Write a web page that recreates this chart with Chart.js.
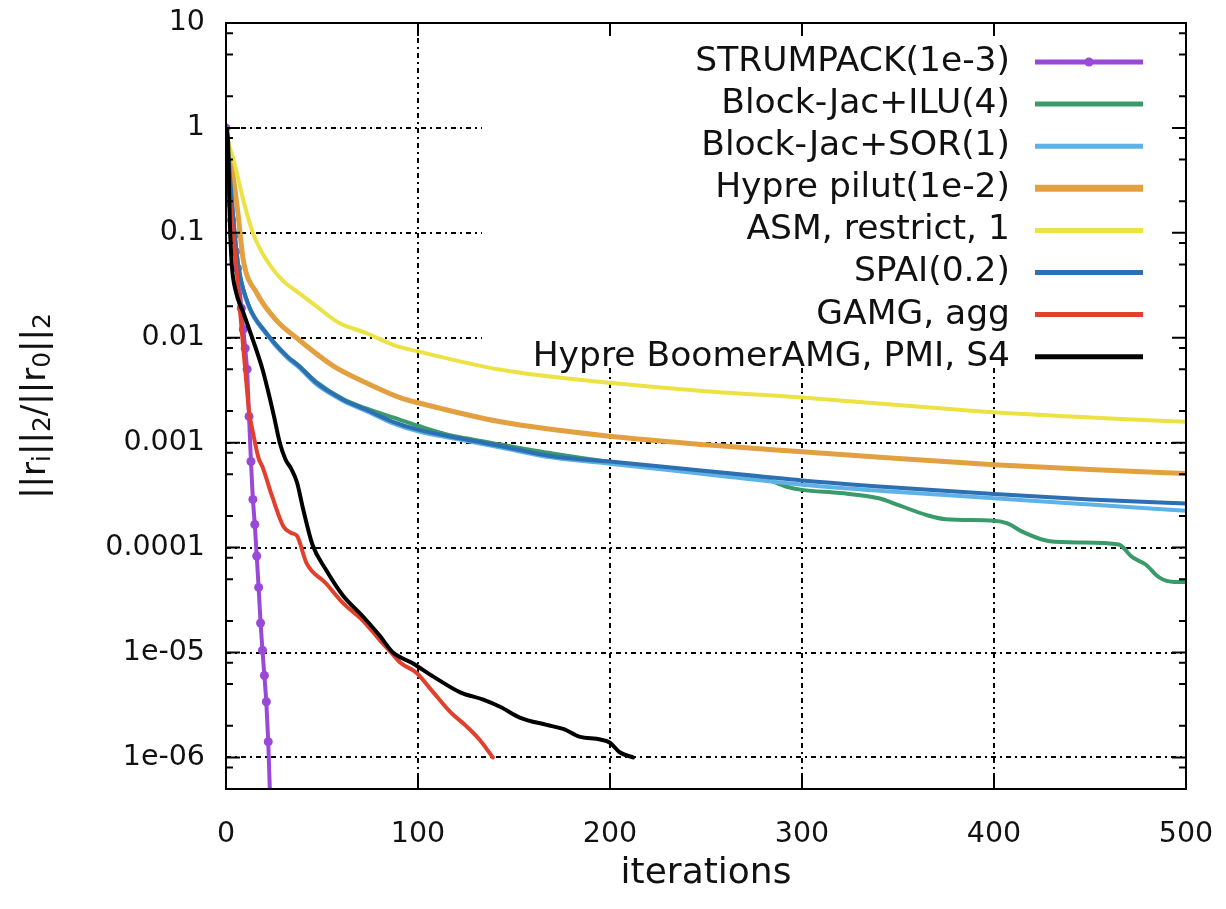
<!DOCTYPE html>
<html><head><meta charset="utf-8">
<script src="https://cdn.jsdelivr.net/npm/chart.js@4.4.1/dist/chart.umd.min.js"></script>
<style>html,body{margin:0;padding:0;background:#fff;}canvas{display:block;}</style>
</head><body>
<canvas id="c" width="1226" height="909"></canvas>
<script>
// ---- data (iterations vs relative residual) ----
const seriesLabels = ['STRUMPACK(1e-3)','Block-Jac+ILU(4)','Block-Jac+SOR(1)','Hypre pilut(1e-2)','ASM, restrict, 1','SPAI(0.2)','GAMG, agg','Hypre BoomerAMG, PMI, S4'];

const strumpackIter = [0,1,2,3,4,5,6,7,8,9,10,11,12,13,14,15,16,17,18,19,20,21,22,23];
const strumpackRes  = [1,0.282,0.19,0.132,0.0933,0.0661,0.0457,0.0302,0.0191,0.012,0.00794,0.00501,0.00178,0.000661,0.000288,0.000166,8.32e-5,4.17e-5,1.91e-5,1.05e-5,6.03e-6,3.39e-6,1.41e-6,3.98e-7];

const iluIter = [0,1,3,5,7,12,21,32,38,47,61,73,87,100,115,125,143,170,200,225,247,265,280,292,300,320,340,351,365,375,400,407,415,429,445,465,472,479,486,494,500];
const iluRes  = [1,0.62,0.205,0.079,0.0415,0.0198,0.011,0.0066,0.0054,0.0038,0.0026,0.00212,0.00174,0.00145,0.0012,0.0011,0.00096,0.00079,0.000655,0.000575,0.000525,0.00049,0.000457,0.00038,0.000355,0.000331,0.000295,0.000251,0.000204,0.000186,0.00018,0.00017,0.000141,0.000115,0.000112,0.000107,8.1e-5,6.9e-5,5.2e-5,4.7e-5,4.7e-5];

const sorIter = [0,1,3,5,7,12,21,32,38,47,61,73,87,100,125,143,170,200,250,300,350,400,450,500];
const sorRes  = [1,0.6,0.2,0.077,0.0405,0.0195,0.0108,0.0064,0.0052,0.0036,0.0025,0.002,0.00153,0.00128,0.00104,0.0009,0.00072,0.000631,0.000501,0.000398,0.000339,0.000295,0.000257,0.000224];

const pilutIter = [0,1,3,6,9,16,26,38,56,73,91,100,143,200,250,300,350,400,450,500];
const pilutRes  = [1,0.71,0.427,0.166,0.0553,0.0267,0.0148,0.00955,0.00537,0.00372,0.00267,0.0024,0.00158,0.00115,0.000955,0.00082,0.000708,0.000617,0.000556,0.000507];

const asmIter = [0,1,4,9,14,21,30,37,47,59,73,87,100,143,200,250,300,350,400,450,500];
const asmRes  = [1,0.76,0.495,0.206,0.1,0.0553,0.0344,0.0275,0.02,0.0138,0.0111,0.00857,0.00741,0.00495,0.00372,0.00309,0.00269,0.00229,0.00195,0.00174,0.00158];

const spaiIter = [0,1,3,5,7,12,21,32,38,47,61,73,87,100,125,143,170,200,250,300,350,400,450,500];
const spaiRes  = [1,0.63,0.206,0.0794,0.0417,0.02,0.0111,0.00661,0.00537,0.00372,0.00257,0.00206,0.00158,0.00133,0.00107,0.00093,0.000741,0.000661,0.000537,0.000437,0.000372,0.000324,0.000288,0.000263];

const gamgIter = [0,1,2,4,6,7,10,12,14,17,19,24,30,34,37,42,52,61,71,80,86,91,99,108,117,125,132,139];
const gamgRes  = [1,0.447,0.224,0.0891,0.0355,0.0209,0.00501,0.002,0.00126,0.000708,0.000589,0.000309,0.000158,0.000138,0.000129,7.08e-5,4.57e-5,2.95e-5,2.04e-5,1.32e-5,1e-5,7.94e-6,6.46e-6,4.17e-6,2.69e-6,2e-6,1.48e-6,1e-6];

const boomerIter = [0,1,2,3,5,9,14,19,23,25,28,31,34,37,40,45,52,61,71,80,87,97,108,122,134,143,153,167,176,184,195,200,205,212];
const boomerRes  = [1,0.79,0.126,0.0501,0.0282,0.0174,0.00955,0.00501,0.00257,0.00178,0.001,0.000692,0.000562,0.000417,0.00024,0.000107,6.17e-5,3.47e-5,2.24e-5,1.45e-5,1e-5,7.94e-6,5.89e-6,4.17e-6,3.55e-6,3.02e-6,2.4e-6,2.04e-6,1.86e-6,1.58e-6,1.48e-6,1.38e-6,1.12e-6,1e-6];

const xTickValues = [0,100,200,300,400,500];
const xTickLabels = ['0','100','200','300','400','500'];
const yTickValues = [10,1,0.1,0.01,0.001,0.0001,0.00001,0.000001];
const yTickLabels = ['10','1','0.1','0.01','0.001','0.0001','1e-05','1e-06'];
const yMinorTickValues = [8e-7,2e-6,5e-6,8e-6,2e-5,5e-5,8e-5,2e-4,5e-4,8e-4,0.002,0.005,0.008,0.02,0.05,0.08,0.2,0.5,0.8,2,5,8];

// ---- styling ----
const FONT = "'DejaVu Sans', 'Noto Sans', sans-serif";
const colors = ['#9a48d8','#3a9a6a','#5eb2e6','#e3a040','#ece244','#2c6fb2','#e0402c','#000000'];
const widths = [4,4,4,5,4,4,4,4];
const iterArrays = [strumpackIter,iluIter,sorIter,pilutIter,asmIter,spaiIter,gamgIter,boomerIter];
const resArrays  = [strumpackRes,iluRes,sorRes,pilutRes,asmRes,spaiRes,gamgRes,boomerRes];

const datasets = seriesLabels.map((lab, i) => ({
  label: lab,
  data: iterArrays[i].map((x, k) => ({x: x, y: resArrays[i][k]})),
  borderColor: colors[i],
  backgroundColor: colors[i],
  borderWidth: widths[i],
  pointRadius: i === 0 ? 4.5 : 0,
  pointStyle: 'circle',
  pointBorderWidth: 0,
  fill: false,
  cubicInterpolationMode: i === 0 ? 'default' : 'monotone',
  tension: 0,
  borderJoinStyle: 'round',
  borderCapStyle: 'round',
  order: 7 - i
}));

const decorPlugin = {
  id: 'decor',
  beforeDatasetsDraw(chart) {
    const ctx = chart.ctx, a = chart.chartArea;
    ctx.save();
    ctx.fillStyle = '#ffffff';
    ctx.fillRect(482, a.top + 1, a.right - 1 - 482, 367 - a.top);
    ctx.restore();
  },
  afterDatasetsDraw(chart) {
    const ctx = chart.ctx, a = chart.chartArea;
    const xs = chart.scales.x, ys = chart.scales.y;
    ctx.save();
    // legend
    ctx.font = "34.5px " + FONT;
    ctx.textAlign = 'right';
    ctx.textBaseline = 'middle';
    chart.data.datasets.forEach((ds, i) => {
      const y = 62 + i * 42.1;
      ctx.fillStyle = '#111';
      ctx.fillText(ds.label, 1010, y);
      ctx.strokeStyle = ds.borderColor;
      ctx.lineWidth = i === 3 ? 7 : 5;
      ctx.lineCap = 'butt';
      ctx.beginPath(); ctx.moveTo(1035, y); ctx.lineTo(1143, y); ctx.stroke();
      if (i === 0) {
        ctx.fillStyle = ds.borderColor;
        ctx.beginPath(); ctx.arc(1089, y, 4.5, 0, Math.PI * 2); ctx.fill();
      }
    });
    // frame
    ctx.strokeStyle = '#000';
    ctx.lineWidth = 2;
    ctx.strokeRect(a.left, a.top, a.right - a.left, a.bottom - a.top);
    // ticks
    ctx.beginPath();
    yTickValues.forEach(v => {
      const y = ys.getPixelForValue(v);
      ctx.moveTo(a.left, y); ctx.lineTo(a.left + 14, y);
      ctx.moveTo(a.right, y); ctx.lineTo(a.right - 14, y);
    });
    yMinorTickValues.forEach(v => {
      const y = ys.getPixelForValue(v);
      ctx.moveTo(a.left, y); ctx.lineTo(a.left + 7, y);
      ctx.moveTo(a.right, y); ctx.lineTo(a.right - 7, y);
    });
    xTickValues.forEach(v => {
      const x = xs.getPixelForValue(v);
      ctx.moveTo(x, a.bottom); ctx.lineTo(x, a.bottom - 13);
      ctx.moveTo(x, a.top); ctx.lineTo(x, a.top + 13);
    });
    ctx.stroke();
    // y title with subscripts
    const parts = [['||r',0],['i',1],['||',0],['2',1],['/||r',0],['0',1],['||',0],['2',1]];
    const big = 34, small = 25;
    ctx.translate(33, (a.top + a.bottom) / 2);
    ctx.rotate(-Math.PI / 2);
    ctx.fillStyle = '#111';
    ctx.textAlign = 'left';
    ctx.textBaseline = 'alphabetic';
    let total = 0;
    parts.forEach(p => { ctx.font = (p[1] ? small : big) + 'px ' + FONT; total += ctx.measureText(p[0]).width; });
    let x = -total / 2;
    parts.forEach(p => {
      ctx.font = (p[1] ? small : big) + 'px ' + FONT;
      ctx.fillText(p[0], x, p[1] ? 17 : 12);
      x += ctx.measureText(p[0]).width;
    });
    ctx.restore();
  }
};

new Chart(document.getElementById('c'), {
  type: 'line',
  data: { datasets: datasets },
  options: {
    responsive: false,
    animation: false,
    devicePixelRatio: 1,
    layout: { padding: { left: 0, right: 40, top: 23, bottom: 0 } },
    plugins: { legend: { display: false }, tooltip: { enabled: false } },
    scales: {
      x: {
        type: 'linear', min: 0, max: 500,
        afterBuildTicks: s => { s.ticks = xTickValues.map(v => ({ value: v })); },
        afterFit: s => { s.height = 120; s.paddingLeft = 0; s.paddingRight = 0; },
        ticks: {
          callback: (v) => xTickLabels[xTickValues.indexOf(v)],
          font: { family: FONT, size: 28.5 }, color: '#111', padding: 28, maxRotation: 0, autoSkip: false
        },
        grid: { color: '#000', lineWidth: 2, drawTicks: false },
        border: { display: false, dash: [5, 4, 2, 4] },
        title: { display: true, text: 'iterations', font: { family: FONT, size: 36 }, color: '#111', padding: { top: 0, bottom: 14 } }
      },
      y: {
        type: 'logarithmic', min: 5e-7, max: 10,
        afterBuildTicks: s => { s.ticks = yTickValues.map(v => ({ value: v })); },
        afterFit: s => { s.width = 226; s.paddingTop = 0; s.paddingBottom = 0; },
        ticks: {
          callback: (v) => { const k = yTickValues.findIndex(t => Math.abs(t - v) / t < 1e-6); return k >= 0 ? yTickLabels[k] : ''; },
          font: { family: FONT, size: 28.5 }, color: '#111', padding: 21, autoSkip: false
        },
        grid: { color: '#000', lineWidth: 2, drawTicks: false },
        border: { display: false, dash: [5, 4, 2, 4] }
      }
    }
  },
  plugins: [decorPlugin]
});
</script>
</body></html>
